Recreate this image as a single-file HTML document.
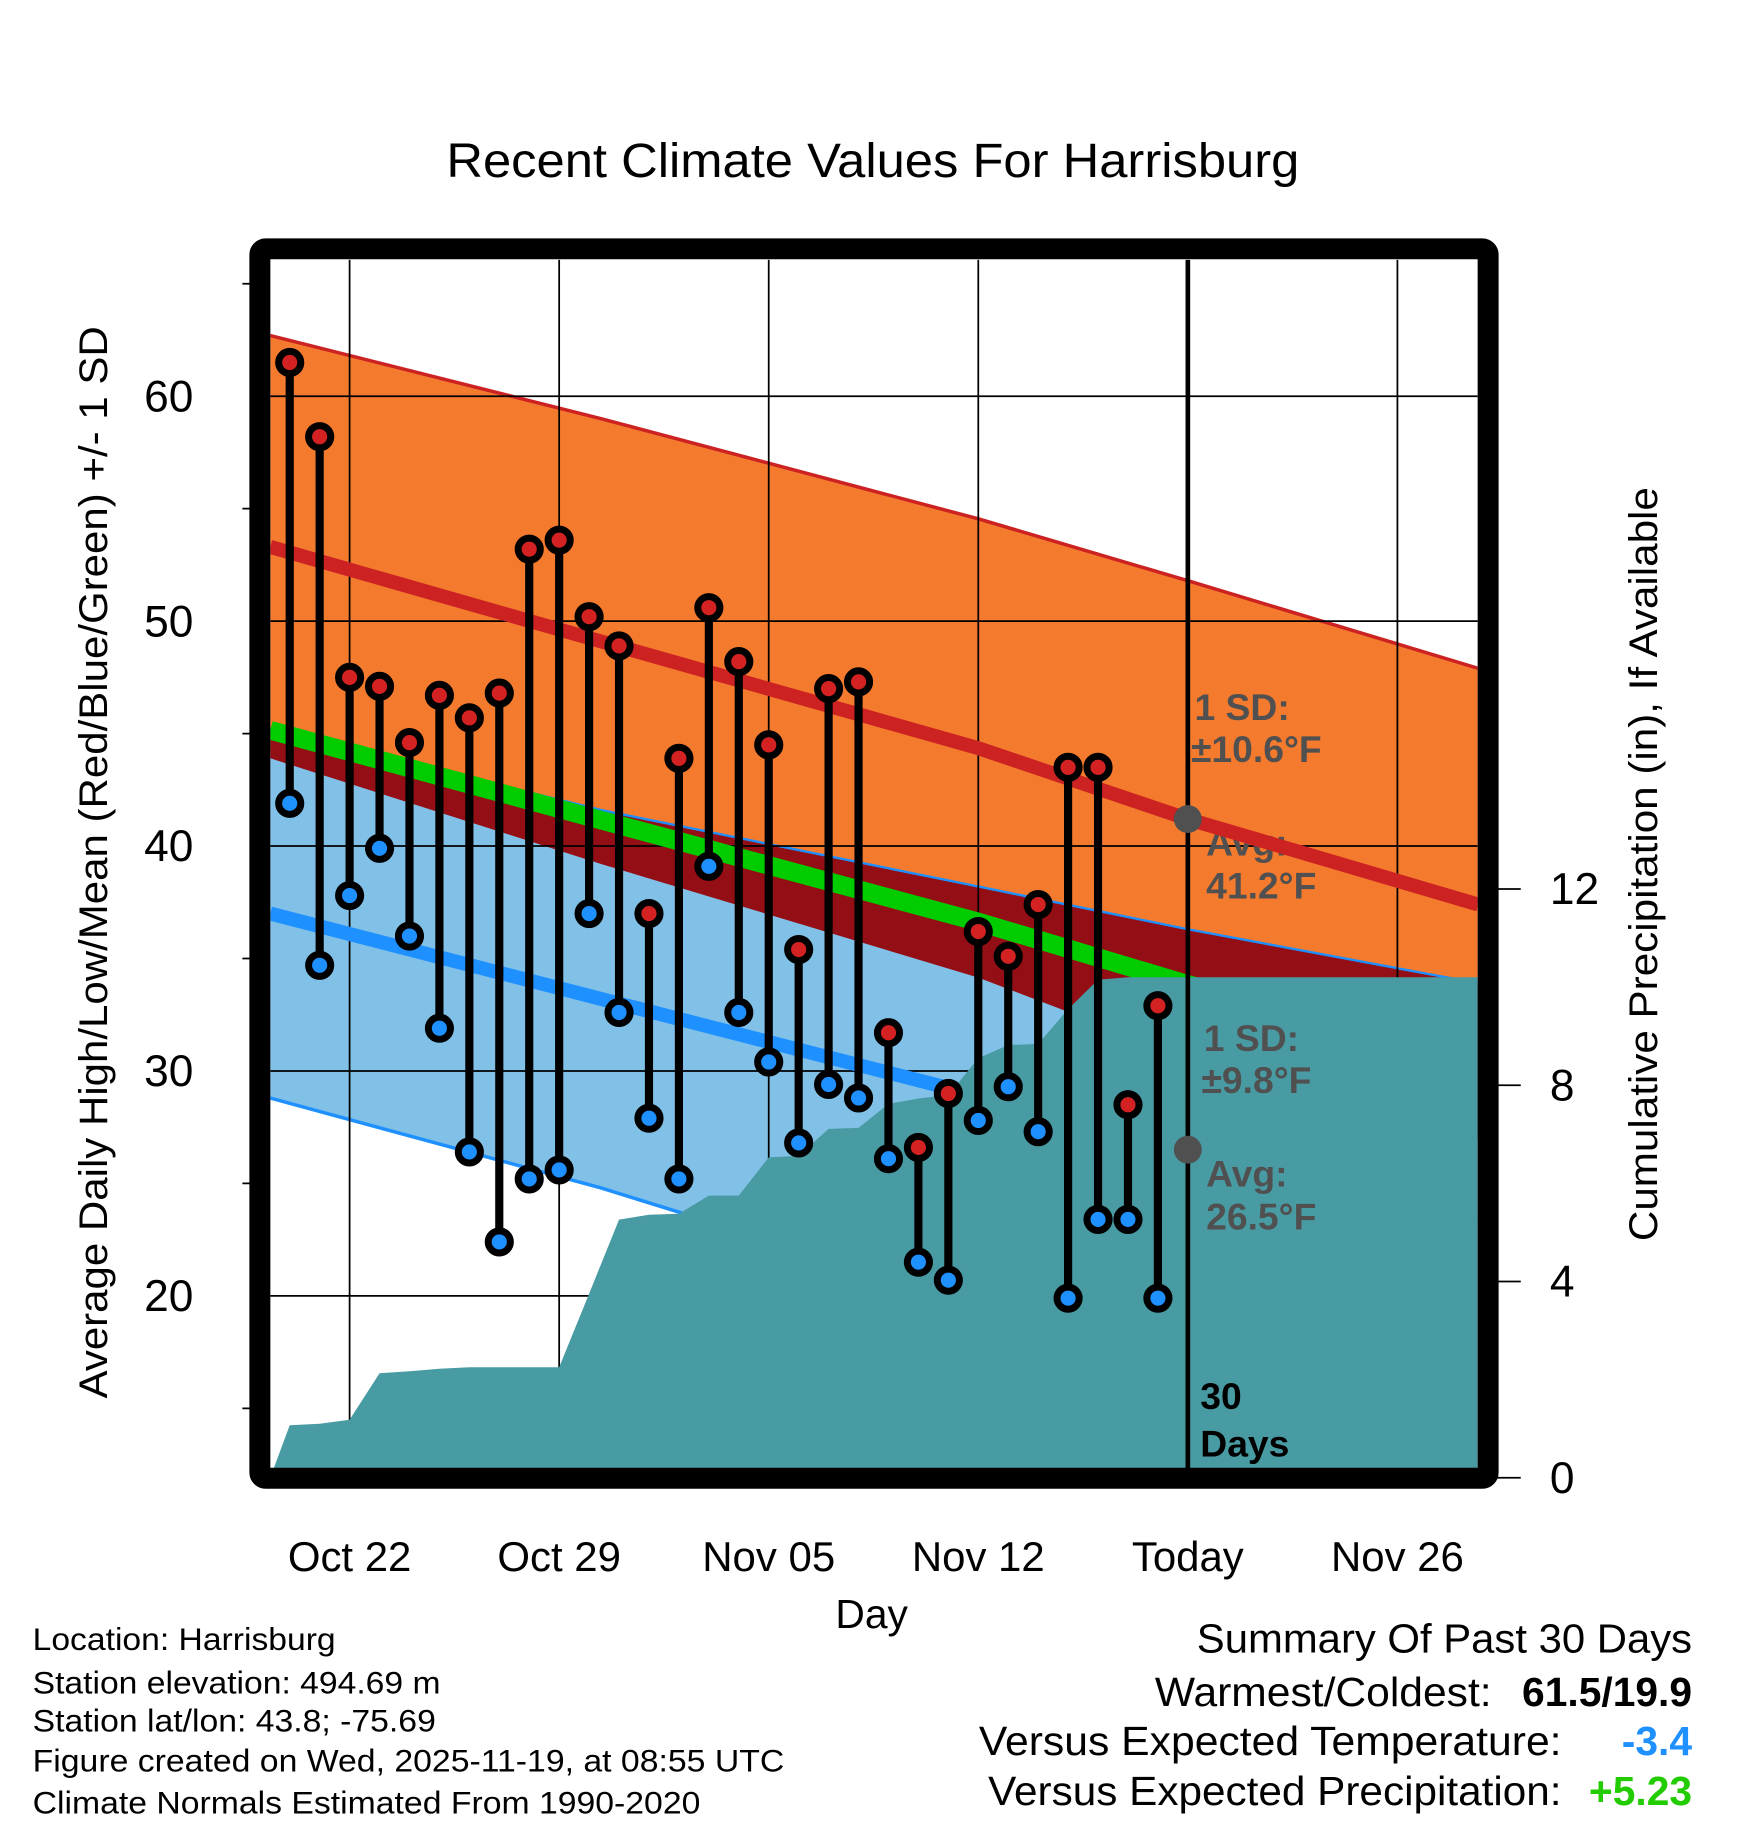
<!DOCTYPE html>
<html><head><meta charset="utf-8"><title>Recent Climate Values For Harrisburg</title>
<style>html,body{margin:0;padding:0;background:#fff}svg{display:block}text{font-family:"Liberation Sans",Arial,sans-serif}</style>
</head><body>
<svg id="chart" width="1748" height="1828" viewBox="0 0 1500 1568.6" preserveAspectRatio="none" xmlns="http://www.w3.org/2000/svg">
<defs><clipPath id="plotclip"><rect x="232" y="223" width="1036" height="1037"/></clipPath></defs>
<text x="383" y="152" font-size="41" textLength="732" lengthAdjust="spacingAndGlyphs">Recent Climate Values For Harrisburg</text>
<g id="bands" clip-path="url(#plotclip)"></g>
<g id="axes"></g>
<g id="marks"></g>
<rect x="223" y="213.5" width="1054" height="1055" rx="5" fill="none" stroke="#000" stroke-width="18"/>
<text transform="translate(92,1200) rotate(-90)" font-size="34" textLength="920" lengthAdjust="spacingAndGlyphs">Average Daily High/Low/Mean (Red/Blue/Green) +/- 1 SD</text>
<text transform="translate(1422,1065) rotate(-90)" font-size="34" textLength="647" lengthAdjust="spacingAndGlyphs">Cumulative Precipitation (in), If Available</text>
<text x="748" y="1397" font-size="35" text-anchor="middle">Day</text>
<g font-size="27">
<text x="28" y="1416" textLength="260" lengthAdjust="spacingAndGlyphs">Location: Harrisburg</text>
<text x="28" y="1453" textLength="350" lengthAdjust="spacingAndGlyphs">Station elevation: 494.69 m</text>
<text x="28" y="1486" textLength="346" lengthAdjust="spacingAndGlyphs">Station lat/lon: 43.8; -75.69</text>
<text x="28" y="1520" textLength="645" lengthAdjust="spacingAndGlyphs">Figure created on Wed, 2025-11-19, at 08:55 UTC</text>
<text x="28" y="1556" textLength="573" lengthAdjust="spacingAndGlyphs">Climate Normals Estimated From 1990-2020</text>
</g>
<g font-size="35">
<text x="1027" y="1418" textLength="425" lengthAdjust="spacingAndGlyphs">Summary Of Past 30 Days</text>
<text x="991" y="1464" textLength="289" lengthAdjust="spacingAndGlyphs">Warmest/Coldest:</text>
<text x="1452" y="1464" text-anchor="end" font-weight="bold">61.5/19.9</text>
<text x="840" y="1506" textLength="500" lengthAdjust="spacingAndGlyphs">Versus Expected Temperature:</text>
<text x="1452" y="1506" text-anchor="end" font-weight="bold" fill="#1e90ff">-3.4</text>
<text x="848" y="1549" textLength="492" lengthAdjust="spacingAndGlyphs">Versus Expected Precipitation:</text>
<text x="1452" y="1549" text-anchor="end" font-weight="bold" fill="#22cc00">+5.23</text>
</g>
<script>
// ---- data ----
const dayOffsets = [-2,-1,0,1,2,3,4,5,6,7,8,9,10,11,12,13,14,15,16,17,18,19,20,21,22,23,24,25,26,27];
const highs = [61.5,58.2,47.5,47.1,44.6,46.7,45.7,46.8,53.2,53.6,50.2,48.9,37.0,43.9,50.6,48.2,44.5,35.4,47.0,47.3,31.7,26.6,29.0,36.2,35.1,37.4,43.5,43.5,28.5,32.9];
const lows = [41.9,34.7,37.8,39.9,36.0,31.9,26.4,22.4,25.2,25.6,37.0,32.6,27.9,25.2,39.1,32.6,30.4,26.8,29.4,28.8,26.1,21.5,20.7,27.8,29.3,27.3,19.9,23.4,23.4,19.9];
const precip = [1.07,1.10,1.18,2.13,2.17,2.22,2.25,2.25,2.25,2.25,3.75,5.26,5.36,5.38,5.75,5.75,6.53,6.56,7.11,7.13,7.62,7.73,7.8,8.55,8.82,8.84,9.55,10.15,10.2,10.2];
const normDays = [-2.65,8.4,21,28,37.7];
const normHigh = [53.3,49.1,44.35,41.2,37.4];
const normHighSD = [9.4,9.9,10.2,10.6,10.5];
const normLow = [37.0,33.2,28.9,26.5,23.3];
const normLowSD = [8.2,8.4,9.3,9.8,10.6];
const yTicks = [20,30,40,50,60];
const yMinor = [15,25,35,45,55,65];
const pTicks = [0,4,8,12];
const xTickDays = [0,7,14,21,28,35];
const xTickLabels = ["Oct 22","Oct 29","Nov 05","Nov 12","Today","Nov 26"];

// ---- scales ----
const X = d => 300 + d*25.69;
const Y = v => 340 + (60 - v)*19.3;
const YP = p => 1268 - p*42.1;
const NS = "http://www.w3.org/2000/svg";
function mk(tag, attrs, parent){const e=document.createElementNS(NS,tag);for(const k in attrs)e.setAttribute(k,attrs[k]);parent.appendChild(e);return e;}
const bands=document.getElementById('bands'), axes=document.getElementById('axes'), marks=document.getElementById('marks');
const pts = f => normDays.map((d,i)=>X(d).toFixed(1)+','+Y(f(i)).toFixed(1));
const up = i=>normHigh[i]+normHighSD[i], hdn=i=>normHigh[i]-normHighSD[i];
const lup = i=>normLow[i]+normLowSD[i], ldn=i=>normLow[i]-normLowSD[i];

let e;
e=mk('polygon',{points:pts(up).concat(pts(hdn).reverse()).join(' '),fill:'#f47a2e'},bands);


e=mk('polygon',{points:pts(lup).concat(pts(ldn).reverse()).join(' '),fill:'#82c1e7'},bands);


e=mk('polygon',{points:pts(lup).concat(pts(hdn).reverse()).join(' '),fill:'#930f15'},bands);


e=mk('polyline',{points:pts(up).join(' '),fill:'none',stroke:'#cc2222','stroke-width':3},bands);


e=mk('polyline',{points:pts(lup).join(' '),fill:'none',stroke:'#1e90ff','stroke-width':2},bands);


e=mk('polyline',{points:pts(ldn).join(' '),fill:'none',stroke:'#1e90ff','stroke-width':3},bands);


// grid
yTicks.forEach(v=>{e=mk('line',{x1:192,x2:1268,y1:Y(v),y2:Y(v),stroke:'#000','stroke-width':1.5},bands);

});
xTickDays.forEach(d=>{e=mk('line',{x1:X(d),x2:X(d),y1:187,y2:1290,stroke:'#000','stroke-width':1.5},bands);

});
// upper annotations (under mean lines)
const annHigh=[["1 SD:",1025,618],["\u00b110.6\u00b0F",1022,654],["Avg:",1035,734],["41.2\u00b0F",1035,771]];
annHigh.forEach(a=>{e=mk('text',{x:a[1],y:a[2],'font-size':32,'font-weight':'bold',fill:'#505050'},bands);e.textContent=a[0];

});
e=mk('polyline',{points:pts(i=>(normHigh[i]+normLow[i])/2).join(' '),fill:'none',stroke:'#00cc00','stroke-width':16},bands);


e=mk('polyline',{points:pts(i=>normHigh[i]).join(' '),fill:'none',stroke:'#cc2222','stroke-width':12},bands);


e=mk('polyline',{points:pts(i=>normLow[i]).join(' '),fill:'none',stroke:'#1e90ff','stroke-width':12},bands);


// precip
let pp=[X(-2.65)+','+YP(0)];
dayOffsets.forEach((d,i)=>pp.push(X(d)+','+YP(precip[i])));
pp.push('1268,'+YP(precip[precip.length-1]),'1268,1270','232,1270');
e=mk('polygon',{points:pp.join(' '),fill:'#489ba3'},bands);


// lower annotations (over precip)
const annLow=[["1 SD:",1033,902],["\u00b19.8\u00b0F",1031,938],["Avg:",1035,1018],["26.5\u00b0F",1035,1055]];
annLow.forEach(a=>{e=mk('text',{x:a[1],y:a[2],'font-size':32,'font-weight':'bold',fill:'#505050'},bands);e.textContent=a[0];

});
// today line & dots
e=mk('line',{x1:X(28),x2:X(28),y1:223,y2:1260,stroke:'#000','stroke-width':4},bands);


e=mk('circle',{cx:X(28),cy:Y(normHigh[3]),r:12,fill:'#505050'},bands);


e=mk('circle',{cx:X(28),cy:Y(normLow[3]),r:12,fill:'#505050'},bands);


e=mk('text',{x:1030,y:1209,'font-size':32,'font-weight':'bold'},bands);e.textContent='30';


e=mk('text',{x:1030,y:1250,'font-size':32,'font-weight':'bold'},bands);e.textContent='Days';


// axes ticks & labels
yTicks.forEach(v=>{e=mk('text',{x:166,y:Y(v)+13,'font-size':38,'text-anchor':'end'},axes);e.textContent=v;

});
yMinor.forEach(v=>{e=mk('line',{x1:208,x2:223,y1:Y(v),y2:Y(v),stroke:'#000','stroke-width':1.5},axes);

});
pTicks.forEach(p=>{e=mk('line',{x1:1277,x2:1305,y1:YP(p),y2:YP(p),stroke:'#000','stroke-width':1.5},axes);


e=mk('text',{x:1330,y:YP(p)+13,'font-size':38},axes);e.textContent=p;

});
xTickDays.forEach((d,i)=>{e=mk('text',{x:X(d),y:1348,'font-size':36,'text-anchor':'middle'},axes);e.textContent=xTickLabels[i];

});
// daily markers
dayOffsets.forEach((d,i)=>{
 const x=X(d);
 e=mk('line',{x1:x,x2:x,y1:Y(highs[i]),y2:Y(lows[i]),stroke:'#000','stroke-width':7},marks);
 
 
 e=mk('circle',{cx:x,cy:Y(highs[i]),r:9.5,fill:'#d42222',stroke:'#000','stroke-width':6},marks);
 
 
 e=mk('circle',{cx:x,cy:Y(lows[i]),r:9.5,fill:'#1e90ff',stroke:'#000','stroke-width':6},marks);
 
 
});
</script>
</svg>
</body></html>
